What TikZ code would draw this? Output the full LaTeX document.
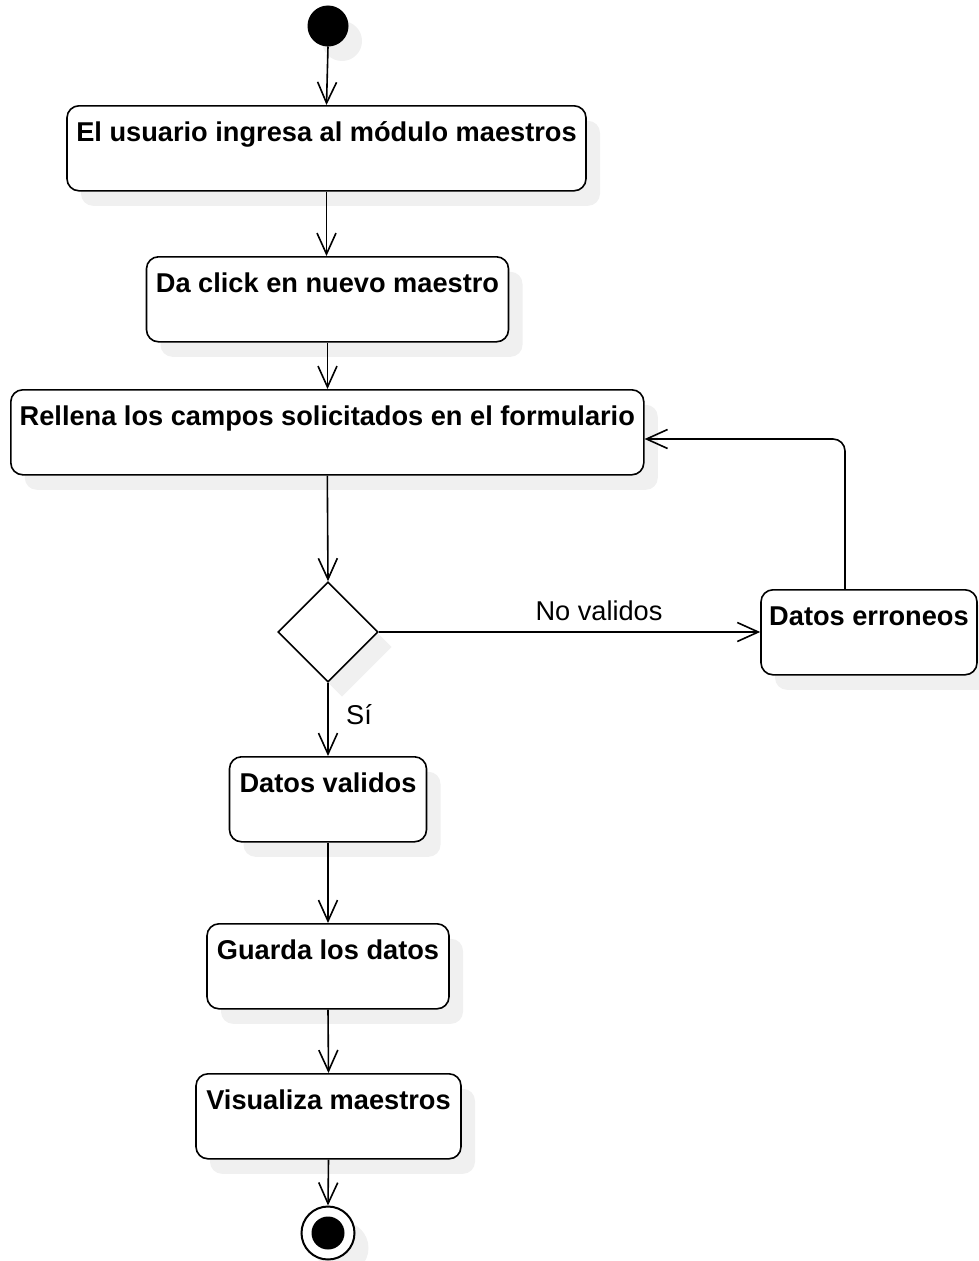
\documentclass[tikz,border=0pt]{standalone}
\usepackage{fontspec}
\setmainfont{Liberation Sans}
\usetikzlibrary{arrows.meta,shapes.geometric,shadows}
\begin{document}
\begin{tikzpicture}[x=1pt,y=-1pt,
  every node/.style={font=\fontsize{27.2}{30}\selectfont},
  shad/.style={drop shadow={shadow xshift=14pt, shadow yshift=-15pt, fill=black!6, opacity=1}},
  actbox/.style={draw, line width=1.6pt, rounded corners=12pt, fill=white, inner sep=0pt,
    text height=36pt, text depth=49pt, font=\fontsize{27.2}{30}\selectfont\bfseries,
    anchor=north, shad},
  arr/.style={line width=1.6pt, -{Straight Barb[length=21pt,width=19pt]}},
  lbl/.style={anchor=base, inner sep=0pt}
]
\useasboundingbox (0,0) rectangle (978,1261);
\node[circle, fill=black, draw=black, line width=1pt, minimum size=40pt, inner sep=0pt, shad] (start) at (328,26) {};
\node[actbox, minimum width=519pt] (b1) at (326.5,105) {El usuario ingresa al módulo maestros};
\node[actbox, minimum width=362pt] (b2) at (327.5,256) {Da click en nuevo maestro};
\node[actbox, minimum width=633pt] (b3) at (327.3,389) {Rellena los campos solicitados en el formulario};
\node[diamond, draw, line width=1.6pt, fill=white, minimum width=100pt, minimum height=100pt, inner sep=0pt, shad] (dec) at (328,632) {};
\node[actbox, minimum width=216pt] (err) at (869,589) {Datos erroneos};
\node[actbox, minimum width=197pt] (val) at (328,756) {Datos validos};
\node[actbox, minimum width=242pt] (guard) at (328,923) {Guarda los datos};
\node[actbox, minimum width=265pt] (vis) at (328.5,1073) {Visualiza maestros};
\node[circle, draw, line width=2pt, fill=white, minimum size=53pt, inner sep=0pt, shad] (fin) at (328,1233) {};
\node[circle, fill=black, minimum size=33pt, inner sep=0pt] (finin) at (fin.center) {};
\coordinate (lp) at (845,439);

\draw[arr] (start.south) -- (b1.north);
\draw[arr] (b1.south) -- (b1.south |- b2.north);
\draw[arr] (b2.south) -- (b2.south |- b3.north);
\draw[arr] (b3.south) -- (dec.north);
\draw[arr] (dec.east) -- (err.west |- dec.east);
\draw[arr, rounded corners=12pt] (lp |- err.north) -- (lp) -- (lp -| b3.east);
\draw[arr] (dec.south) -- (val.north);
\draw[arr] (val.south) -- (guard.north);
\draw[arr] (guard.south) -- (vis.north);
\draw[arr] (vis.south) -- (fin.north);

\node[lbl] (nov) at (599,620) {No validos};
\node[lbl, anchor=base west] (si) at (346,724) {Sí};
\end{tikzpicture}
\end{document}
